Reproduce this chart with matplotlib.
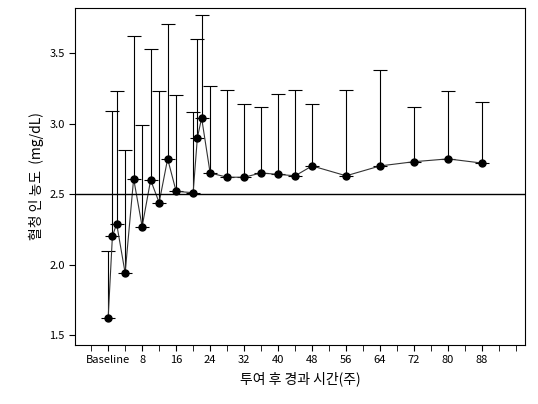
import matplotlib
matplotlib.use("Agg")
import matplotlib.pyplot as plt
import numpy as np

plt.rcParams['font.family'] = ['Noto Sans CJK KR', 'DejaVu Sans']

weeks = [0, 1, 2, 4, 6, 8, 10, 12, 14, 16, 20, 21, 22, 24, 28, 32, 36, 40, 44, 48, 56, 64, 72, 80, 88]
means = [1.62, 2.20, 2.29, 1.94, 2.61, 2.27, 2.60, 2.44, 2.75, 2.52, 2.51, 2.90, 3.04, 2.65, 2.62,
         2.62, 2.65, 2.64, 2.63, 2.70, 2.63, 2.70, 2.73, 2.75, 2.72]
uppers = [2.10, 3.09, 3.23, 2.81, 3.62, 2.99, 3.53, 3.23, 3.71, 3.20, 3.08, 3.60, 3.77, 3.27, 3.24,
          3.14, 3.12, 3.21, 3.24, 3.14, 3.24, 3.38, 3.12, 3.23, 3.15]
tick_pos = [0, 8, 16, 24, 32, 40, 48, 56, 64, 72, 80, 88]
tick_labels = ['Baseline', '8', '16', '24', '32', '40', '48', '56', '64', '72', '80', '88']

fig = plt.figure(figsize=(5.38, 4.04), dpi=100)
ax = fig.add_axes([75/538, 59/404, 450/538, 337/404])
m = np.array(means); u = np.array(uppers)
ax.errorbar(weeks, m, yerr=[np.zeros_like(m), u - m], fmt='none', ecolor='black',
            elinewidth=0.8, capsize=5, capthick=0.8)
ax.plot(weeks, m, color='#333333', lw=0.8, marker='o', ms=5, mfc='black', mec='black')
ax.axhline(2.5, color='black', lw=1)
ax.set_xlim(-7.8, 98.1)
ax.set_ylim(1.43, 3.82)
ax.set_xticks(tick_pos)
ax.set_xticklabels(tick_labels, fontsize=8)
ax.set_xticks(np.arange(-4, 97, 4), minor=True)
ax.set_yticks([1.5, 2.0, 2.5, 3.0, 3.5])
ax.set_yticklabels(['1.5', '2.0', '2.5', '3.0', '3.5'], fontsize=8)
ax.tick_params(which='both', length=4)
ax.set_xlabel('투여 후 경과 시간(주)', fontsize=10)
ax.set_ylabel('혈청 인 농도  (mg/dL)', fontsize=10)
fig.savefig('out.png', dpi=100)
